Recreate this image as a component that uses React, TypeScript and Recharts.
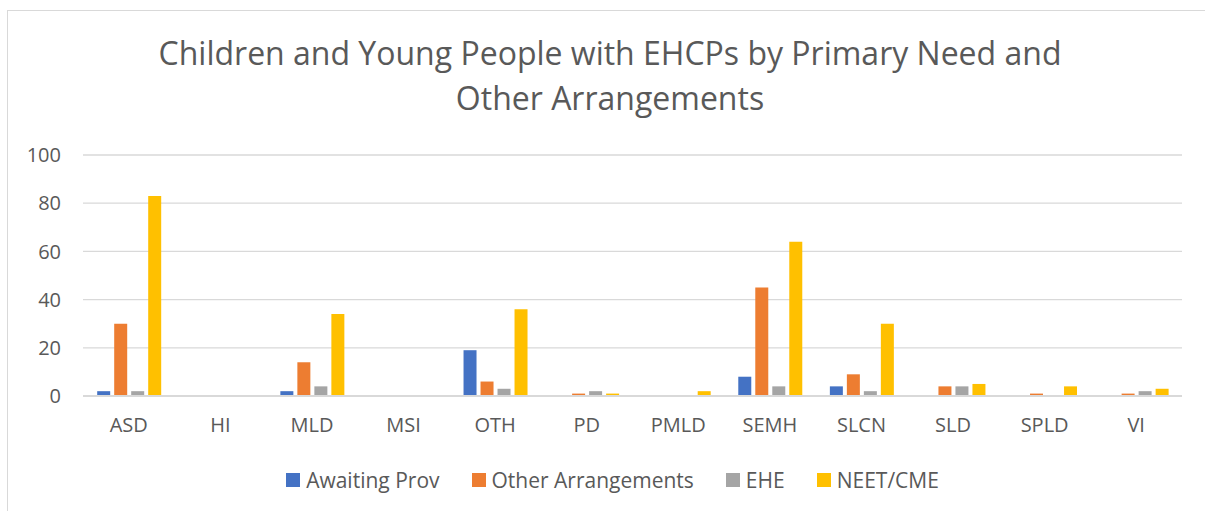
import React from 'react';
import { Bar, BarChart, CartesianGrid, XAxis, YAxis } from 'recharts';

/* EHCP primary need vs other arrangements — Excel-style clustered columns */

const NEEDS = ['ASD', 'HI', 'MLD', 'MSI', 'OTH', 'PD', 'PMLD', 'SEMH', 'SLCN', 'SLD', 'SPLD', 'VI'];
const AWAITING_PROV = [2, 0, 2, 0, 19, 0, 0, 8, 4, 0, 0, 0];
const OTHER_ARRANGEMENTS = [30, 0, 14, 0, 6, 1, 0, 45, 9, 4, 1, 1];
const EHE = [2, 0, 4, 0, 3, 2, 0, 4, 2, 4, 0, 2];
const NEET_CME = [83, 0, 34, 0, 36, 1, 2, 64, 30, 5, 4, 3];
const Y_TICKS = [0, 20, 40, 60, 80, 100];

const SERIES = [
  { key: 'awaiting', name: 'Awaiting Prov', color: '#4472c4', values: AWAITING_PROV },
  { key: 'other', name: 'Other Arrangements', color: '#ed7d31', values: OTHER_ARRANGEMENTS },
  { key: 'ehe', name: 'EHE', color: '#a5a5a5', values: EHE },
  { key: 'neet', name: 'NEET/CME', color: '#ffc000', values: NEET_CME },
];

const data = NEEDS.map((need, i) => {
  const row: Record<string, string | number> = { need };
  SERIES.forEach((s) => (row[s.key] = s.values[i]));
  return row;
});

const FONT = '"Open Sans", sans-serif';
const INK = '#595959';
const GRID = '#d9d9d9';

// swatch + label, Excel spacing (legend sits outside the plot so it doesn't shrink it)
function LegendRow() {
  return (
    <div
      style={{
        position: 'absolute',
        left: 0,
        top: 466,
        width: 1225,
        display: 'flex',
        justifyContent: 'center',
        gap: 32,
        fontFamily: FONT,
        fontSize: 21,
        lineHeight: '28px',
        color: INK,
      }}
    >
      {SERIES.map((s) => (
        <span key={s.key} style={{ display: 'inline-flex', alignItems: 'center', gap: 6 }}>
          <span style={{ width: 14, height: 14, background: s.color }} />
          {s.name}
        </span>
      ))}
    </div>
  );
}

export default function App() {
  return (
    <div
      style={{
        position: 'absolute',
        left: 0,
        top: 0,
        width: 1205,
        height: 511,
        overflow: 'hidden',
        background: '#fff',
      }}
    >
      {/* chart frame: only left and top edges fall inside the capture */}
      <div
        style={{
          position: 'absolute',
          left: 7,
          top: 10,
          width: 1400,
          height: 700,
          border: `1px solid ${GRID}`,
        }}
      />
      <div
        style={{
          position: 'absolute',
          left: 0,
          top: 30,
          width: 1220,
          textAlign: 'center',
          fontFamily: FONT,
          fontSize: 32,
          lineHeight: '45px',
          color: INK,
        }}
      >
        Children and Young People with EHCPs by Primary Need and
        <br />
        Other Arrangements
      </div>
      <div style={{ position: 'absolute', left: 0, top: 0 }}>
        <BarChart
          width={1205}
          height={511}
          data={data}
          margin={{ top: 155, right: 23, bottom: 0, left: 23 }}
          barCategoryGap="15.5%"
          barGap={4}
        >
          <CartesianGrid vertical={false} stroke={GRID} strokeWidth={1.3} />
          <XAxis
            dataKey="need"
            axisLine={{ stroke: GRID, strokeWidth: 2 }}
            tickLine={false}
            tickSize={0}
            tickMargin={22}
            height={115}
            interval={0}
            tick={{ fill: INK, fontSize: 20, fontFamily: FONT }}
          />
          <YAxis
            domain={[0, 100]}
            ticks={Y_TICKS}
            axisLine={false}
            tickLine={false}
            tickSize={0}
            tickMargin={22}
            width={60}
            tick={{ fill: INK, fontSize: 20, fontFamily: FONT }}
          />
          {SERIES.map((s) => (
            <Bar
              key={s.key}
              dataKey={s.key}
              name={s.name}
              fill={s.color}
              isAnimationActive={false}
            />
          ))}
        </BarChart>
      </div>
      <LegendRow />
    </div>
  );
}
